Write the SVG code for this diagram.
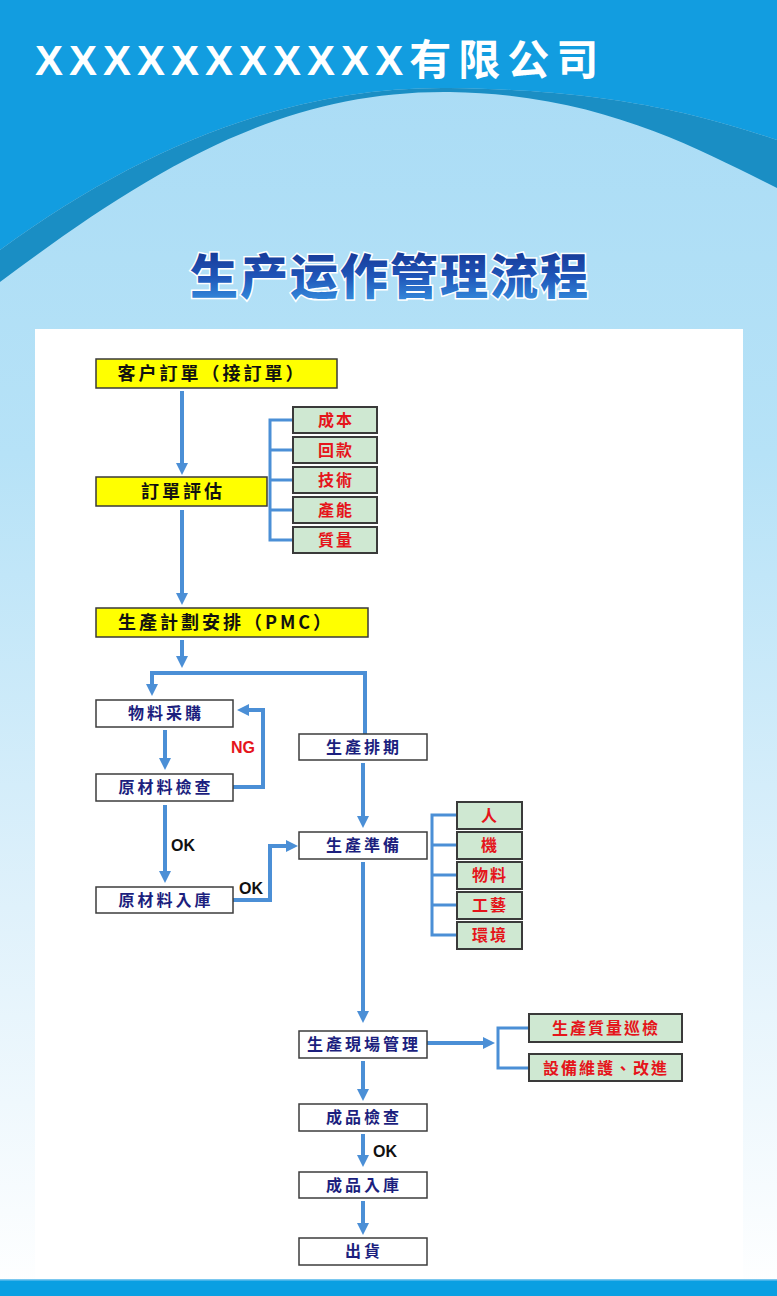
<svg xmlns="http://www.w3.org/2000/svg" width="777" height="1296" viewBox="0 0 777 1296">
<defs>
<linearGradient id="bg" x1="0" y1="0" x2="0" y2="1">
<stop offset="0" stop-color="#a8dbf5"/>
<stop offset="0.35" stop-color="#b6e2f7"/>
<stop offset="0.7" stop-color="#dff1fb"/>
<stop offset="1" stop-color="#ffffff"/>
</linearGradient>
<linearGradient id="tg" x1="0" y1="0" x2="0" y2="1">
<stop offset="0" stop-color="#132a86"/>
<stop offset="0.55" stop-color="#1f55b8"/>
<stop offset="1" stop-color="#3a9ae6"/>
</linearGradient>
<marker id="ah" viewBox="0 0 12 12" markerUnits="userSpaceOnUse" markerWidth="12" markerHeight="12" refX="2" refY="6" orient="auto">
<path d="M0,0 L12,6 L0,12 Z" fill="#4b8fd6"/>
</marker>
<style>
.yb{fill:#ffff00;stroke:#3a3a3a;stroke-width:1.5}
.wb{fill:#ffffff;stroke:#3c3c3c;stroke-width:1.5}
.gb{fill:#cfe8d2;stroke:#3a3a3a;stroke-width:2}
.yt{font-family:"Noto Sans CJK TC","Noto Sans CJK SC",sans-serif;font-weight:700;font-size:18px;fill:#111;letter-spacing:3px;text-anchor:middle}
.wt{font-family:"Noto Sans CJK TC","Noto Sans CJK SC",sans-serif;font-weight:700;font-size:16px;fill:#1c1f7e;letter-spacing:3px;text-anchor:middle}
.gt{font-family:"Noto Sans CJK TC","Noto Sans CJK SC",sans-serif;font-weight:700;font-size:16px;fill:#e5151b;letter-spacing:2px;text-anchor:middle}
.lbl{font-family:"Liberation Sans",Arial,sans-serif;font-weight:700;font-size:16px}
.ar{fill:none;stroke:#4b8fd6;stroke-width:4;marker-end:url(#ah)}
.br{fill:none;stroke:#4b8fd6;stroke-width:3}
</style>
</defs>
<g id="background">
<rect x="0" y="0" width="777" height="1296" fill="url(#bg)"/>
<path d="M0,0 H777 V140 C710,118 620,90 450,88 C300,86 150,140 0,250 Z" fill="#129de0"/>
<path d="M0,250 C150,140 300,86 450,88 C620,90 710,118 777,140 V188 C700,150 600,94 450,92 C280,90 150,170 0,282 Z" fill="#1a8ec4"/>
<rect x="35" y="329" width="708" height="951" fill="#ffffff"/>
<rect x="0" y="1280" width="777" height="16" fill="#0a9fe2"/>
<rect x="0" y="1279" width="777" height="1.5" fill="#7cc8ef"/>
</g>
<g id="header">
<text x="35" y="75" font-family="Liberation Sans,Arial,sans-serif" font-weight="700" font-size="42" fill="#ffffff"><tspan letter-spacing="6">XXXXXXXXXXX</tspan><tspan font-family="Noto Sans CJK SC,sans-serif" letter-spacing="7">有限公司</tspan></text>
</g>
<g id="title">
<text x="390" y="294" text-anchor="middle" font-family="Noto Sans CJK SC,sans-serif" font-weight="900" font-size="48" letter-spacing="2" fill="url(#tg)" stroke="#ffffff" stroke-width="3" paint-order="stroke">生产运作管理流程</text>
</g>
<g id="connectors">
<path class="ar" d="M182,391 V465"/>
<path class="ar" d="M182,510 V595"/>
<path class="ar" d="M182,640 V658"/>
<path class="ar" d="M365,734 V673 H152 V686"/>
<path class="ar" d="M165,730 V760"/>
<path class="ar" d="M233,787 H263 V710 H247"/>
<path class="ar" d="M165,805 V873"/>
<path class="ar" d="M233,900 H270 V846 H288"/>
<path class="ar" d="M363,763 V818"/>
<path class="ar" d="M363,862 V1013"/>
<path class="ar" d="M427,1043 H485"/>
<path class="ar" d="M363,1061 V1091"/>
<path class="ar" d="M363,1134 V1157"/>
<path class="ar" d="M363,1201 V1225"/>
<path class="br" d="M293,420 H270 V540 H293 M270,450 H293 M270,480 H293 M270,510 H293"/>
<path class="br" d="M457,815 H432 V935 H457 M432,845 H457 M432,875 H457 M432,905 H457"/>
<path class="br" d="M529,1028 H498 V1068 H529"/>
<text class="lbl" x="231" y="753" fill="#e5151b">NG</text>
<text class="lbl" x="171" y="851" fill="#111">OK</text>
<text class="lbl" x="239" y="894" fill="#111">OK</text>
<text class="lbl" x="373" y="1157" fill="#111">OK</text>
</g>
<g id="n-order">
<rect class="yb" x="96" y="359" width="241" height="29"/>
<text class="yt" x="212" y="380">客户訂單（接訂單）</text>
</g>
<g id="n-eval">
<rect class="yb" x="96" y="477" width="171" height="29"/>
<text class="yt" x="183" y="498">訂單評估</text>
</g>
<g id="n-pmc">
<rect class="yb" x="96" y="608" width="272" height="29"/>
<text class="yt" x="226" y="629">生產計劃安排（PMC）</text>
</g>
<g id="g-cost"><rect class="gb" x="293" y="407" width="84" height="26"/><text class="gt" x="336" y="426">成本</text></g>
<g id="g-pay"><rect class="gb" x="293" y="437" width="84" height="26"/><text class="gt" x="336" y="456">回款</text></g>
<g id="g-tech"><rect class="gb" x="293" y="467" width="84" height="26"/><text class="gt" x="336" y="486">技術</text></g>
<g id="g-cap"><rect class="gb" x="293" y="497" width="84" height="26"/><text class="gt" x="336" y="516">產能</text></g>
<g id="g-qual"><rect class="gb" x="293" y="527" width="84" height="26"/><text class="gt" x="336" y="546">質量</text></g>
<g id="n-purchase"><rect class="wb" x="96" y="700" width="137" height="27"/><text class="wt" x="166" y="719">物料采購</text></g>
<g id="n-inspect"><rect class="wb" x="96" y="774" width="137" height="27"/><text class="wt" x="166" y="793">原材料檢查</text></g>
<g id="n-store"><rect class="wb" x="96" y="887" width="137" height="26"/><text class="wt" x="166" y="906">原材料入庫</text></g>
<g id="n-schedule"><rect class="wb" x="299" y="734" width="128" height="26"/><text class="wt" x="364" y="753">生產排期</text></g>
<g id="n-prep"><rect class="wb" x="299" y="832" width="128" height="27"/><text class="wt" x="364" y="851">生產準備</text></g>
<g id="g-man"><rect class="gb" x="457" y="802" width="65" height="27"/><text class="gt" x="490" y="821">人</text></g>
<g id="g-mach"><rect class="gb" x="457" y="832" width="65" height="27"/><text class="gt" x="490" y="851">機</text></g>
<g id="g-mat"><rect class="gb" x="457" y="862" width="65" height="27"/><text class="gt" x="490" y="881">物料</text></g>
<g id="g-proc"><rect class="gb" x="457" y="892" width="65" height="27"/><text class="gt" x="490" y="911">工藝</text></g>
<g id="g-env"><rect class="gb" x="457" y="922" width="65" height="27"/><text class="gt" x="490" y="941">環境</text></g>
<g id="n-site"><rect class="wb" x="299" y="1031" width="128" height="27"/><text class="wt" x="364" y="1050" font-size="17" letter-spacing="2">生產現場管理</text></g>
<g id="g-patrol"><rect class="gb" x="529" y="1014" width="153" height="28"/><text class="gt" x="606" y="1034" font-size="17">生產質量巡檢</text></g>
<g id="g-maint"><rect class="gb" x="529" y="1054" width="153" height="27"/><text class="gt" x="606" y="1074" font-size="17">設備維護、改進</text></g>
<g id="n-fcheck"><rect class="wb" x="299" y="1104" width="128" height="27"/><text class="wt" x="364" y="1123">成品檢查</text></g>
<g id="n-fstore"><rect class="wb" x="299" y="1172" width="128" height="26"/><text class="wt" x="364" y="1191">成品入庫</text></g>
<g id="n-ship"><rect class="wb" x="299" y="1238" width="128" height="27"/><text class="wt" x="364" y="1257">出貨</text></g>
</svg>
